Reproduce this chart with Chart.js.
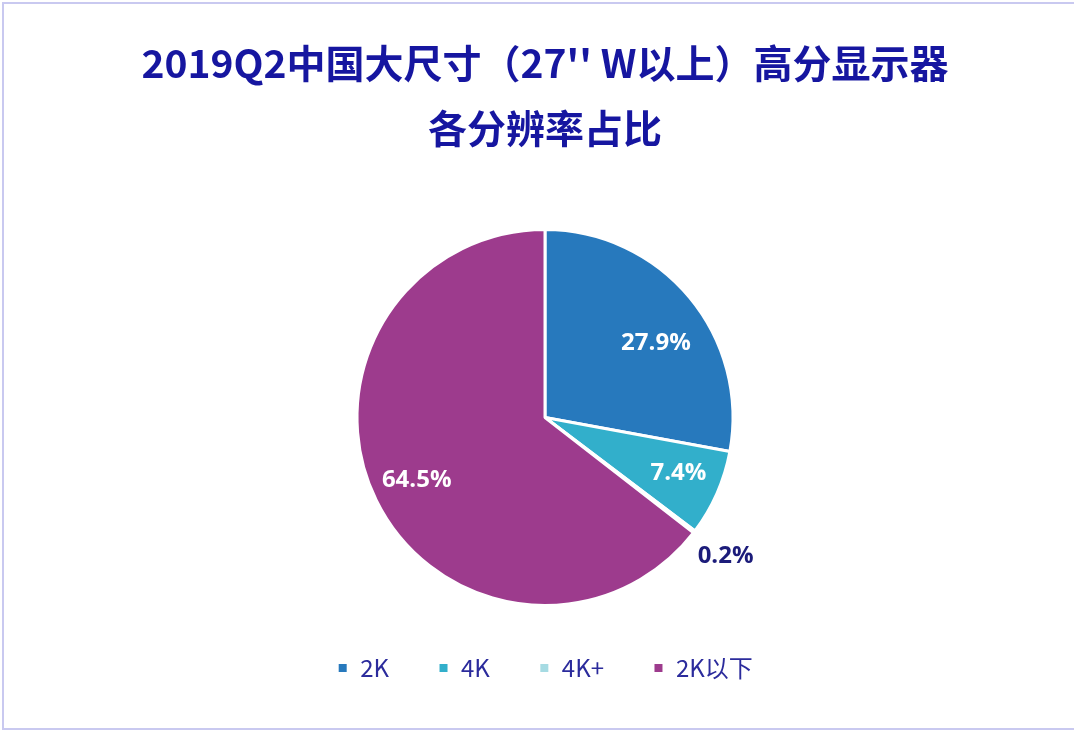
<!DOCTYPE html>
<html>
<head>
<meta charset="utf-8">
<script src="https://cdn.jsdelivr.net/npm/chart.js@4.4.0/dist/chart.umd.min.js"></script>
<style>
    body { margin: 0; background: #fff; }
    #frame {
        position: absolute; left: 2px; top: 2px;
        width: 1080px; height: 728px;
        border: 2px solid #c9c9f0;
        box-sizing: border-box;
    }
    #wrap { position: absolute; left: 0; top: 0; width: 1074px; height: 732px; }
</style>
</head>
<body>
<div id="frame"></div>
<div id="wrap"><canvas id="chart"></canvas></div>
<script>
// Resolution share data
const categories = ['2K', '4K', '4K+', '2K以下'];
const shares = [27.9, 7.4, 0.2, 64.5];
const sliceColors = ['#2779bd', '#32afcb', '#a6dbe3', '#9d3b8d'];
const titleLines = ['2019Q2中国大尺寸（27\'\' W以上）高分显示器', '各分辨率占比'];

const cjkFont = '"Noto Sans CJK SC", "Noto Sans", sans-serif';

// label placement per slice: [radius factor, angle nudge in degrees]
const labelPlacement = [[0.71, 6], [0.77, -1], [1.21, 0], [0.76, 0]];

// Draw value labels on slices (no datalabels plugin available)
const sliceLabelPlugin = {
    id: 'sliceLabels',
    afterDatasetsDraw(chart) {
        const ctx = chart.ctx;
        const meta = chart.getDatasetMeta(0);
        ctx.save();
        ctx.textAlign = 'center';
        ctx.textBaseline = 'middle';
        ctx.font = 'bold 24px "Open Sans", sans-serif';
        meta.data.forEach((arc, i) => {
            const v = shares[i];
            const [f, nudge] = labelPlacement[i];
            const mid = (arc.startAngle + arc.endAngle) / 2 + nudge * Math.PI / 180;
            const r = arc.outerRadius;
            const x = arc.x + Math.cos(mid) * r * f;
            const y = arc.y + Math.sin(mid) * r * f;
            ctx.fillStyle = f > 1 ? '#1c1c7a' : '#ffffff';
            ctx.fillText(v.toFixed(1) + '%', x, y);
        });
        ctx.restore();
    }
};

new Chart(document.getElementById('chart'), {
    type: 'pie',
    data: {
        labels: categories,
        datasets: [{
            data: shares,
            backgroundColor: sliceColors,
            borderColor: '#ffffff',
            borderWidth: 3
        }]
    },
    options: {
        responsive: true,
        maintainAspectRatio: false,
        animation: false,
        layout: { padding: { top: 0, bottom: 42, left: 16 } },
        plugins: {
            title: {
                display: true,
                text: titleLines,
                color: '#1616a0',
                font: { family: cjkFont, size: 39, weight: 'bold', lineHeight: 1.667 },
                padding: { top: 31, bottom: 67 }
            },
            legend: {
                display: true,
                position: 'bottom',
                labels: {
                    color: '#2b2b9c',
                    font: { family: cjkFont, size: 24 },
                    boxWidth: 11,
                    boxHeight: 11,
                    padding: 49
                }
            },
            tooltip: { enabled: false }
        }
    },
    plugins: [sliceLabelPlugin]
});
</script>
</body>
</html>
